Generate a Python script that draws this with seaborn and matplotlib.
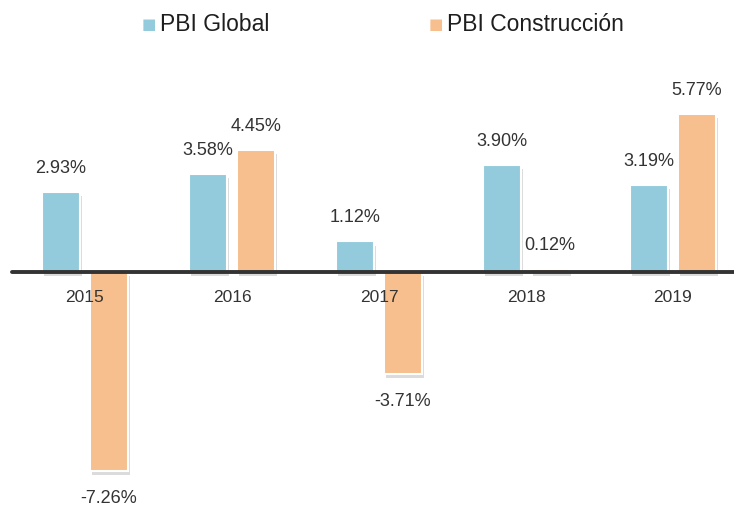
import pandas as pd
import seaborn as sns
import matplotlib.pyplot as plt
import matplotlib.patheffects as pe

years = ["2015", "2016", "2017", "2018", "2019"]
pbi_global = [2.93, 3.58, 1.12, 3.90, 3.19]
pbi_construccion = [-7.26, 4.45, -3.71, 0.12, 5.77]
series = ["PBI Global", "PBI Construcción"]
colors = ["#93cbdc", "#f6bf8d"]

df = pd.DataFrame({
    "year": years * 2,
    "value": pbi_global + pbi_construccion,
    "serie": [series[0]] * len(years) + [series[1]] * len(years),
})

sns.set_style("white")
plt.rcParams["font.family"] = ["Liberation Sans", "DejaVu Sans"]
txt = "#333333"

fig = plt.figure(figsize=(7.34, 5.11), dpi=100)
ax = fig.add_axes([0, 0, 1, 1])

sns.barplot(data=df, x="year", y="value", hue="serie", palette=colors,
            saturation=1, width=0.653, gap=0.21, edgecolor="white", linewidth=1.5,
            legend=False, ax=ax)

shadow = [pe.SimplePatchShadow(offset=(1.5, -3), shadow_rgbFace="#999999", alpha=0.35),
          pe.Normal()]
for bar in ax.patches:
    bar.set_path_effects(shadow)

ax.set_xlim(-0.578, 4.415)
ax.set_ylim(-8.72, 9.93)
ax.axhline(0, xmin=12 / 734, xmax=1, color="#333333", lw=2.8, zorder=5)

# value labels
for cont in ax.containers:
    for bar in cont:
        h = bar.get_height()
        xc = bar.get_x() + bar.get_width() / 2
        if h >= 0:
            ax.annotate(f"{h:.2f}%", (xc, h), xytext=(0, 17), textcoords="offset points",
                        ha="center", va="center", fontsize=13, color=txt)
        else:
            ax.annotate(f"{h:.2f}%", (xc, h), xytext=(0, -20), textcoords="offset points",
                        ha="center", va="center", fontsize=13, color=txt)

# year labels just below the zero line
for i, y in enumerate(years):
    ax.annotate(y, (i, 0), xytext=(0, -18), textcoords="offset points",
                ha="center", va="center", fontsize=12.5, color=txt, zorder=6)

ax.set_axis_off()

# legend at the top
for xp, name, c in [(0.218, series[0], colors[0]), (0.609, series[1], colors[1])]:
    fig.text(xp - 0.006, 0.953, "■", color=c, fontsize=11, ha="right", va="center",
             family=["DejaVu Sans"])
    fig.text(xp, 0.953, name, color="#1e1e1e", fontsize=16.5, ha="left", va="center")

fig.savefig("out.png", dpi=100)
